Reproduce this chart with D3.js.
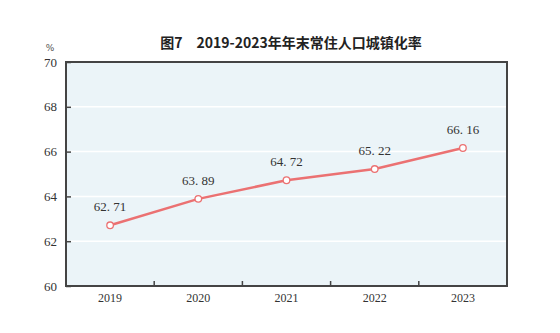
<!DOCTYPE html>
<html>
<head>
<meta charset="utf-8">
<script src="https://cdn.jsdelivr.net/npm/d3@7"></script>
<style>
  html, body { margin: 0; padding: 0; background: #fff; }
  svg { display: block; }
</style>
</head>
<body>
<svg id="chart" width="560" height="333"></svg>
<script>
// Year-end urban population share, 2019-2023
const years = ["2019", "2020", "2021", "2022", "2023"];
const rates = [62.71, 63.89, 64.72, 65.22, 66.16];
const yTicks = [60, 62, 64, 66, 68, 70];
const titleText = "图7\u30002019-2023年年末常住人口城镇化率";
const unitText = "%";

const svg = d3.select("#chart");
const plot = { left: 66, top: 62, right: 507, bottom: 286 };
const serif = "'Liberation Serif', 'DejaVu Serif', serif";

const x = d3.scaleBand().domain(years).range([plot.left, plot.right]);
const y = d3.scaleLinear().domain([60, 70]).range([plot.bottom, plot.top]);

// plot background
svg.append("rect")
  .attr("x", plot.left).attr("y", plot.top)
  .attr("width", plot.right - plot.left).attr("height", plot.bottom - plot.top)
  .attr("fill", "#ebf4f8");

// horizontal gridlines
svg.append("g")
  .selectAll("line")
  .data(yTicks.filter(t => t > 60 && t < 70))
  .join("line")
  .attr("x1", plot.left).attr("x2", plot.right)
  .attr("y1", d => y(d)).attr("y2", d => y(d))
  .attr("stroke", "#ffffff").attr("stroke-width", 1.5);

// y axis
const yAxis = svg.append("g")
  .attr("transform", `translate(${plot.left},0)`)
  .call(d3.axisRight(y).tickValues(yTicks).tickSize(5).tickFormat(""));
yAxis.select(".domain").remove();
yAxis.selectAll("line").attr("stroke", "#444").attr("stroke-width", 1.5);

svg.append("g")
  .selectAll("text")
  .data(yTicks)
  .join("text")
  .attr("x", plot.left - 9)
  .attr("y", d => y(d))
  .attr("dy", "0.36em")
  .attr("text-anchor", "end")
  .attr("font-family", serif)
  .attr("font-size", 13)
  .attr("fill", "#333")
  .text(d => d);

// x axis: ticks at category boundaries, pointing inward
const bounds = years.slice(1).map(yr => x(yr));
svg.append("g")
  .selectAll("line")
  .data(bounds)
  .join("line")
  .attr("x1", d => d).attr("x2", d => d)
  .attr("y1", plot.bottom).attr("y2", plot.bottom - 5)
  .attr("stroke", "#444").attr("stroke-width", 1.5);

svg.append("g")
  .selectAll("text")
  .data(years)
  .join("text")
  .attr("x", d => x(d) + x.bandwidth() / 2)
  .attr("y", plot.bottom + 16)
  .attr("text-anchor", "middle")
  .attr("font-family", serif)
  .attr("font-size", 12)
  .attr("fill", "#333")
  .text(d => d);

// frame
svg.append("rect")
  .attr("x", plot.left).attr("y", plot.top)
  .attr("width", plot.right - plot.left).attr("height", plot.bottom - plot.top)
  .attr("fill", "none").attr("stroke", "#444").attr("stroke-width", 2);

// line series
const pts = years.map((yr, i) => ({ year: yr, value: rates[i] }));
const line = d3.line()
  .x(d => x(d.year) + x.bandwidth() / 2)
  .y(d => y(d.value));

svg.append("path")
  .datum(pts)
  .attr("d", line)
  .attr("fill", "none")
  .attr("stroke", "#eb7172")
  .attr("stroke-width", 2.5);

svg.append("g")
  .selectAll("circle")
  .data(pts)
  .join("circle")
  .attr("cx", d => x(d.year) + x.bandwidth() / 2)
  .attr("cy", d => y(d.value))
  .attr("r", 3.3)
  .attr("fill", "#fff")
  .attr("stroke", "#eb7172")
  .attr("stroke-width", 1.3);

// value labels
svg.append("g")
  .selectAll("text")
  .data(pts)
  .join("text")
  .attr("x", d => x(d.year) + x.bandwidth() / 2)
  .attr("y", d => y(d.value) - 14)
  .attr("text-anchor", "middle")
  .attr("font-family", serif)
  .attr("font-size", 13)
  .attr("fill", "#333")
  .text(d => d3.format(".2f")(d.value).replace(".", ". "));

// unit
svg.append("text")
  .attr("x", 50).attr("y", 51)
  .attr("text-anchor", "middle")
  .attr("font-family", "'DejaVu Sans', sans-serif")
  .attr("font-size", 9)
  .attr("fill", "#555")
  .text(unitText);

// title
svg.append("text")
  .attr("x", 291).attr("y", 48)
  .attr("text-anchor", "middle")
  .attr("font-family", "'Noto Sans CJK SC', sans-serif")
  .attr("font-weight", "bold")
  .attr("font-size", 14)
  .attr("fill", "#222")
  .text(titleText);
</script>
</body>
</html>
